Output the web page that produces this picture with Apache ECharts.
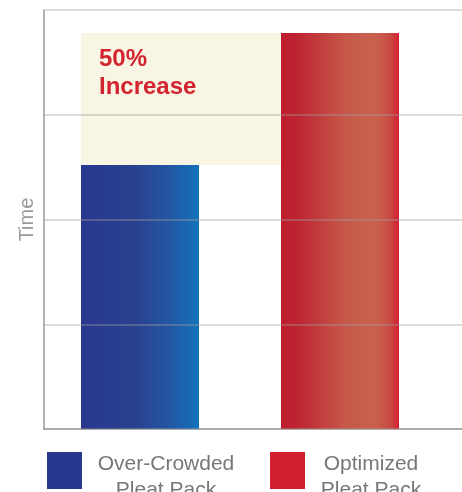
<!DOCTYPE html>
<html>
<head>
<meta charset="utf-8">
<script src="https://cdn.jsdelivr.net/npm/echarts@6/dist/echarts.min.js"></script>
<style>
html,body{margin:0;padding:0;background:#fff;}
#chart{width:462px;height:492px;}
</style>
</head>
<body>
<div id="chart"></div>
<script>
// ---- data ----
const categories = ['Over-Crowded\nPleat Pack', 'Optimized\nPleat Pack'];
const categoryX = [0, 1];
const values = [2.52, 3.78];
const yTicks = [0, 1, 2, 3, 4];
const axisName = 'Time';
const annotation = '50%\nIncrease';

// ---- styles ----
const BAR_W = 118;
const legendColors = ['#283890', '#d21f30'];
const barGradients = [
  new echarts.graphic.LinearGradient(0, 0, 1, 0, [
    {offset: 0, color: '#283890'},
    {offset: 0.45, color: '#29418f'},
    {offset: 0.75, color: '#2356a3'},
    {offset: 1, color: '#1273ba'}
  ]),
  new echarts.graphic.LinearGradient(0, 0, 1, 0, [
    {offset: 0, color: '#be1e2d'},
    {offset: 0.12, color: '#be2230'},
    {offset: 0.55, color: '#c6594a'},
    {offset: 0.8, color: '#c9614e'},
    {offset: 0.92, color: '#c74c44'},
    {offset: 1, color: '#d3212f'}
  ])
];

const chart = echarts.init(document.getElementById('chart'), null, {renderer: 'canvas'});

const barSeries = categories.map((name, i) => ({
  name: name,
  type: 'bar',
  data: [[categoryX[i], values[i]]],
  barWidth: BAR_W,
  barGap: '-100%',
  itemStyle: {color: barGradients[i]},
  z: 2,
  silent: true
}));

const boxSeries = {
  type: 'custom',
  silent: true,
  z: 1,
  data: [[categoryX[0], categoryX[1], values[0], values[1]]],
  encode: {x: [0, 1], y: [2, 3]},
  renderItem: function (params, api) {
    const p0 = api.coord([api.value(0), api.value(2)]);
    const p1 = api.coord([api.value(1), api.value(3)]);
    const half = BAR_W / 2;
    const left = p0[0] - half;
    const right = p1[0] - half;
    const top = p1[1];
    const bottom = p0[1];
    return {
      type: 'group',
      children: [
        {type: 'rect', shape: {x: left, y: top, width: right - left, height: bottom - top},
         style: {fill: '#f8f5e4'}},
        {type: 'text', style: {text: annotation, x: left + 18, y: top + 12,
          fill: '#d42330', fontSize: 24, fontWeight: 'bold', fontFamily: 'Liberation Sans',
          lineHeight: 28, verticalAlign: 'top', align: 'left'}}
      ]
    };
  }
};

function legendFor(i, left, width) {
  return {
    data: [{name: categories[i], itemStyle: {color: legendColors[i]}}],
    left: left,
    top: 440,
    padding: 0,
    icon: 'rect',
    itemWidth: 35,
    itemHeight: 37,
    selectedMode: false,
    formatter: n => '{a|' + n + '}',
    textStyle: {
      rich: {a: {width: width, align: 'center', fontSize: 21, lineHeight: 26,
        color: '#777', fontFamily: 'Liberation Sans', padding: [14, 0, 0, 0]}}
    }
  };
}

chart.setOption({
  animation: false,
  backgroundColor: '#fff',
  grid: {left: 44, right: 0, top: 10, bottom: 63, containLabel: false, outerBoundsMode: 'none'},
  legend: [legendFor(0, 47, 158), legendFor(1, 270, 122)],
  xAxis: {
    type: 'value',
    min: -0.48, max: 1.61,
    axisLine: {show: true, onZero: false, lineStyle: {color: '#999', width: 1.5}},
    axisTick: {show: false},
    axisLabel: {show: false},
    splitLine: {show: false}
  },
  yAxis: {
    type: 'value',
    min: yTicks[0], max: yTicks[yTicks.length - 1], interval: 1,
    z: 5,
    name: axisName,
    nameLocation: 'middle',
    nameRotate: 90,
    nameGap: 7,
    nameTextStyle: {color: '#999', fontSize: 20, fontFamily: 'Liberation Sans'},
    axisLine: {show: true, onZero: false, lineStyle: {color: '#999', width: 1.5}},
    axisTick: {show: false},
    axisLabel: {show: false},
    splitLine: {show: true, lineStyle: {color: 'rgba(160,160,160,0.5)', width: 1.5}}
  },
  series: [boxSeries].concat(barSeries)
});
</script>
</body>
</html>
